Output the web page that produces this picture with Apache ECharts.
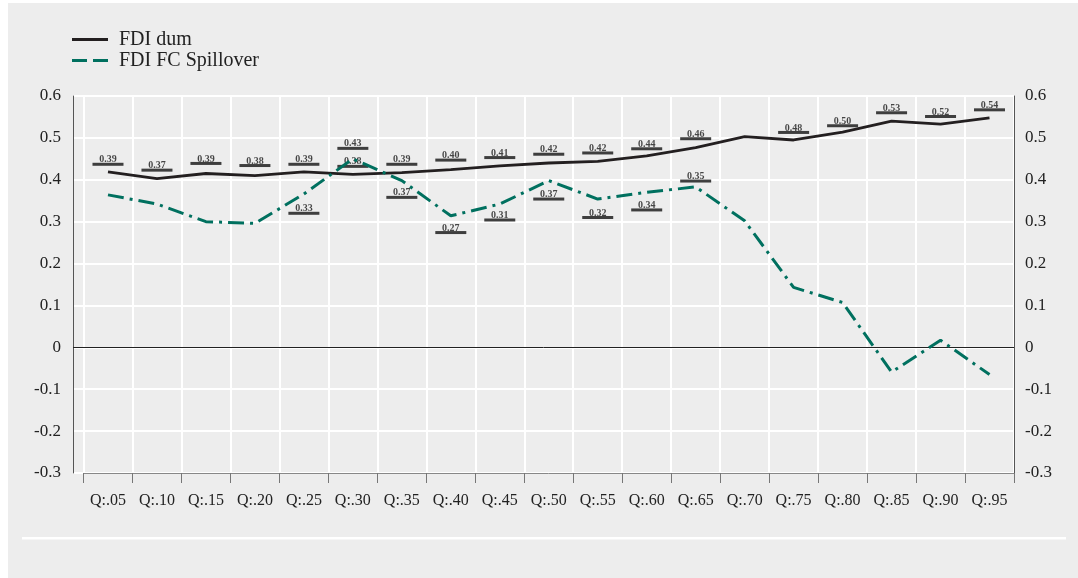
<!DOCTYPE html>
<html>
<head>
<meta charset="utf-8">
<script src="https://cdn.jsdelivr.net/npm/echarts@6/dist/echarts.min.js"></script>
<style>
html,body{margin:0;padding:0;background:#ffffff;}
#chart{width:1078px;height:578px;}
</style>
</head>
<body>
<div id="chart"></div>
<script>
const categories = ['Q:.05','Q:.10','Q:.15','Q:.20','Q:.25','Q:.30','Q:.35','Q:.40','Q:.45','Q:.50','Q:.55','Q:.60','Q:.65','Q:.70','Q:.75','Q:.80','Q:.85','Q:.90','Q:.95'];
const fdiDum = [0.419,0.403,0.415,0.410,0.419,0.413,0.417,0.424,0.433,0.440,0.444,0.457,0.477,0.503,0.495,0.514,0.540,0.533,0.548];
const fdiSpill = [0.364,0.342,0.300,0.296,0.366,0.450,0.398,0.314,0.342,0.398,0.354,0.370,0.383,0.302,0.143,0.107,-0.059,0.017,-0.065];
// value annotations printed in the original chart (text, and the level of their underline bar)
const dumLabelText = [0.39,0.37,0.39,0.38,0.39,0.38,0.39,0.40,0.41,0.42,0.42,0.44,0.46,null,0.48,0.50,0.53,0.52,0.54];
const dumLabelY = [0.437,0.423,0.439,0.434,0.437,0.432,0.437,0.447,0.453,0.461,0.464,0.474,0.498,null,0.513,0.529,0.560,0.551,0.567];
const spillLabelText = [null,null,null,null,0.33,0.43,0.37,0.27,0.31,0.37,0.32,0.34,0.35,null,null,null,null,null,null];
const spillLabelY = [null,null,null,null,0.320,0.475,0.358,0.274,0.304,0.354,0.310,0.328,0.397,null,null,null,null,null,null];
const yMin = -0.3, yMax = 0.6, yStep = 0.1;

const serif = 'Liberation Serif, Times New Roman, serif';
function annot(texts, ys) {
  const out = [];
  texts.forEach((t, i) => { if (t !== null) out.push([i, ys[i], t]); });
  return out;
}
const yLabelFmt = v => Math.abs(v) < 1e-9 ? '0' : v.toFixed(1);

const chart = echarts.init(document.getElementById('chart'), null, {renderer: 'canvas'});
const annotLabel = {show: true, position: 'top', distance: -2, formatter: p => p.value[2].toFixed(2),
  fontFamily: serif, fontSize: 10, fontWeight: 'bold', color: '#1a1a1a'};
const option = {
  backgroundColor: 'transparent',
  animation: false,
  graphic: [
    {type: 'rect', z: -10, shape: {x: 8, y: 3, width: 1070, height: 575}, style: {fill: '#ededed'}},
    {type: 'rect', z: -9, shape: {x: 22, y: 537, width: 1044, height: 2.5}, style: {fill: '#ffffff'}}
  ],
  legend: {
    left: 72, top: 29, orient: 'vertical', itemWidth: 36, itemHeight: 3, itemGap: 0, padding: 0,
    textStyle: {fontFamily: serif, fontSize: 20, color: '#222', lineHeight: 21, padding: [0, 0, 0, 6]},
    data: [
      {name: 'FDI dum', icon: 'path://M0,0H36V3H0Z', itemStyle: {color: '#231f20'}},
      {name: 'FDI FC Spillover', icon: 'path://M0,0H15V3H0Z M21,0H36V3H21Z', itemStyle: {color: '#00705f'}}
    ]
  },
  grid: [
    {left: 73, right: 64, top: 96, height: 377},
    {left: 83.5, right: 64, top: 96, height: 377}
  ],
  xAxis: [
    {gridIndex: 0, type: 'value', min: 0, max: 1, show: false},
    {gridIndex: 1, type: 'category', data: categories, boundaryGap: true,
      axisLine: {show: true, onZero: false, lineStyle: {color: '#888', width: 1}},
      axisTick: {show: true, length: 10, lineStyle: {color: '#777', width: 1}},
      splitLine: {show: true, lineStyle: {color: '#ffffff', width: 2}},
      axisLabel: {interval: 0, fontFamily: serif, fontSize: 16, color: '#222', margin: 20}}
  ],
  yAxis: [
    {gridIndex: 0, type: 'value', position: 'left', min: yMin, max: yMax, interval: yStep,
      axisLine: {show: true, lineStyle: {color: '#555', width: 1}}, axisTick: {show: false},
      splitLine: {show: true, lineStyle: {color: '#ffffff', width: 2}},
      axisLabel: {formatter: yLabelFmt, fontFamily: serif, fontSize: 17, color: '#222', margin: 12}},
    {gridIndex: 0, type: 'value', position: 'right', min: yMin, max: yMax, interval: yStep,
      axisLine: {show: true, lineStyle: {color: '#555', width: 1}}, axisTick: {show: false},
      splitLine: {show: false},
      axisLabel: {formatter: yLabelFmt, fontFamily: serif, fontSize: 17, color: '#222', margin: 11}},
    {gridIndex: 1, type: 'value', min: yMin, max: yMax, interval: yStep, show: false, splitLine: {show: false}}
  ],
  series: [
    {name: 'zero', type: 'line', xAxisIndex: 0, yAxisIndex: 0, data: [], silent: true,
      markLine: {silent: true, symbol: 'none', label: {show: false},
        lineStyle: {color: '#222', width: 1, type: 'solid'}, data: [{yAxis: 0}]}},
    {name: 'dumLabels', type: 'scatter', xAxisIndex: 1, yAxisIndex: 2, z: 3,
      symbol: 'rect', symbolSize: [31, 3], itemStyle: {color: '#111'},
      label: annotLabel, data: annot(dumLabelText, dumLabelY)},
    {name: 'spillLabels', type: 'scatter', xAxisIndex: 1, yAxisIndex: 2, z: 3,
      symbol: 'rect', symbolSize: [31, 3], itemStyle: {color: '#111'},
      label: annotLabel, data: annot(spillLabelText, spillLabelY)},
    {name: 'FDI dum', type: 'line', xAxisIndex: 1, yAxisIndex: 2, z: 5, symbol: 'none',
      lineStyle: {color: '#231f20', width: 2.8}, itemStyle: {color: '#231f20'}, data: fdiDum},
    {name: 'FDI FC Spillover', type: 'line', xAxisIndex: 1, yAxisIndex: 2, z: 6, symbol: 'none',
      lineStyle: {color: '#00705f', width: 3, type: [16, 6, 3, 6]}, itemStyle: {color: '#00705f'}, data: fdiSpill}
  ]
};
chart.setOption(option);
</script>
</body>
</html>
